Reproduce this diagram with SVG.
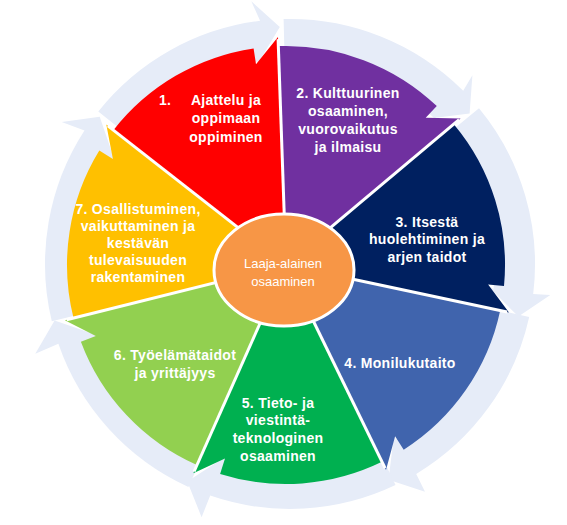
<svg xmlns="http://www.w3.org/2000/svg" width="567" height="525" viewBox="0 0 567 525">
<style>
.ring{fill:#E6ECF8}
.div{stroke:#FFFFFF;stroke-width:3;fill:none}
.t{font-family:"Liberation Sans",Arial,sans-serif;font-weight:bold;font-size:14px;fill:#FFFFFF;text-anchor:middle;letter-spacing:0.3px}
.c{font-family:"Liberation Sans",Arial,sans-serif;font-size:13px;fill:#FFFFFF;text-anchor:middle}
</style>
<rect width="567" height="525" fill="#FFFFFF"/>
<g id="ring">
<path class="ring" d="M129.6,136.4 L98.3,111.5 A245,245 0 0 1 260.1,20.8 L251.3,1.3 L279.8,27.1 L254.9,68.4 L265.0,60.5 A205,205 0 0 0 129.6,136.4 Z"/>
<path class="ring" d="M284.6,59.1 L283.6,19.1 A245,245 0 0 1 463.2,90.8 L472.4,75.3 L469.6,113.6 L421.7,119.5 L435.0,119.0 A205,205 0 0 0 284.6,59.1 Z"/>
<path class="ring" d="M448.2,133.6 L479.0,108.2 A245,245 0 0 1 533.2,293.9 L550.3,295.1 L518.4,316.5 L484.2,282.4 L493.5,289.0 A205,205 0 0 0 448.2,133.6 Z"/>
<path class="ring" d="M490.1,308.4 L529.2,317.0 A245,245 0 0 1 416.2,474.0 L425.0,491.8 L388.5,479.8 L394.4,431.9 L395.6,439.7 A205,205 0 0 0 490.1,308.4 Z"/>
<path class="ring" d="M378.3,449.0 L395.5,485.1 A245,245 0 0 1 210.2,495.6 L201.6,517.2 L187.3,481.6 L227.8,455.3 L223.3,457.8 A205,205 0 0 0 378.3,449.0 Z"/>
<path class="ring" d="M205.0,450.6 L188.4,487.0 A245,245 0 0 1 58.4,343.8 L35.3,353.8 L54.6,320.5 L100.2,336.3 L96.2,330.7 A205,205 0 0 0 205.0,450.6 Z"/>
<path class="ring" d="M90.7,311.8 L51.8,321.2 A245,245 0 0 1 84.5,130.6 L61.7,122.1 L99.7,116.8 L115.4,162.5 L118.1,152.4 A205,205 0 0 0 90.7,311.8 Z"/>
</g>
<g id="seg1">
<path fill="#FF0000" d="M286,265 L113.4,130.2 A219,219 0 0 1 253.6,48.4 L256.0,64.2 L278.0,37.1 Z"/>
<text class="t" x="159" y="105" style="text-anchor:start">1.</text>
<text class="t" x="226" y="105">Ajattelu ja</text>
<text class="t" x="226" y="123">oppimaan</text>
<text class="t" x="226" y="142">oppiminen</text>
</g>
<g id="seg2">
<path fill="#7030A0" d="M286,265 L278.4,46.1 A219,219 0 0 1 436.8,106.1 L425.7,117.7 L460.6,118.4 Z"/>
<text class="t" x="348" y="98">2. Kulttuurinen</text>
<text class="t" x="348" y="116">osaaminen,</text>
<text class="t" x="348" y="134">vuorovaikutus</text>
<text class="t" x="348" y="152">ja ilmaisu</text>
</g>
<g id="seg3">
<path fill="#002060" d="M286,265 L453.8,124.2 A219,219 0 0 1 504.0,286.0 L488.1,284.4 L509.0,312.4 Z"/>
<text class="t" x="427" y="227">3. Itsestä</text>
<text class="t" x="427" y="244">huolehtiminen ja</text>
<text class="t" x="427" y="262">arjen taidot</text>
</g>
<g id="seg4">
<path fill="#4064AD" d="M286,265 L500.2,310.5 A219,219 0 0 1 403.7,449.7 L395.1,436.2 L386.0,469.9 Z"/>
<text class="t" x="400" y="368">4. Monilukutaito</text>
</g>
<g id="seg5">
<path fill="#00B050" d="M286,265 L382.0,461.8 A219,219 0 0 1 220.1,473.9 L225.0,458.6 L193.3,473.3 Z"/>
<text class="t" x="278" y="408">5. Tieto- ja</text>
<text class="t" x="278" y="425">viestintä-</text>
<text class="t" x="278" y="443">teknologinen</text>
<text class="t" x="278" y="461">osaaminen</text>
</g>
<g id="seg6">
<path fill="#92D050" d="M286,265 L196.9,465.1 A219,219 0 0 1 80.9,341.7 L95.8,336.1 L64.8,320.2 Z"/>
<text class="t" x="175" y="360">6. Työelämätaidot</text>
<text class="t" x="175" y="378">ja yrittäjyys</text>
</g>
<g id="seg7">
<path fill="#FFC000" d="M286,265 L73.5,318.0 A219,219 0 0 1 99.3,150.6 L112.9,158.9 L106.3,124.6 Z"/>
<text class="t" x="138" y="214">7. Osallistuminen,</text>
<text class="t" x="138" y="231">vaikuttaminen ja</text>
<text class="t" x="138" y="248">kestävän</text>
<text class="t" x="138" y="265">tulevaisuuden</text>
<text class="t" x="138" y="282">rakentaminen</text>
</g>
<g id="connectors">
<line class="div" x1="286" y1="265" x2="278.1" y2="39.1"/>
<line class="div" x1="286" y1="265" x2="459.1" y2="119.7"/>
<line class="div" x1="286" y1="265" x2="507.1" y2="312.0"/>
<line class="div" x1="286" y1="265" x2="385.1" y2="468.1"/>
<line class="div" x1="286" y1="265" x2="194.1" y2="471.5"/>
<line class="div" x1="286" y1="265" x2="66.7" y2="319.7"/>
<line class="div" x1="286" y1="265" x2="107.9" y2="125.9"/>
</g>
<g id="center">
<ellipse cx="284" cy="270" rx="70" ry="56" fill="#F79646" stroke="#FFFFFF" stroke-width="3"/>
<text class="c" x="283" y="268">Laaja-alainen</text>
<text class="c" x="283" y="286">osaaminen</text>
</g>
</svg>
